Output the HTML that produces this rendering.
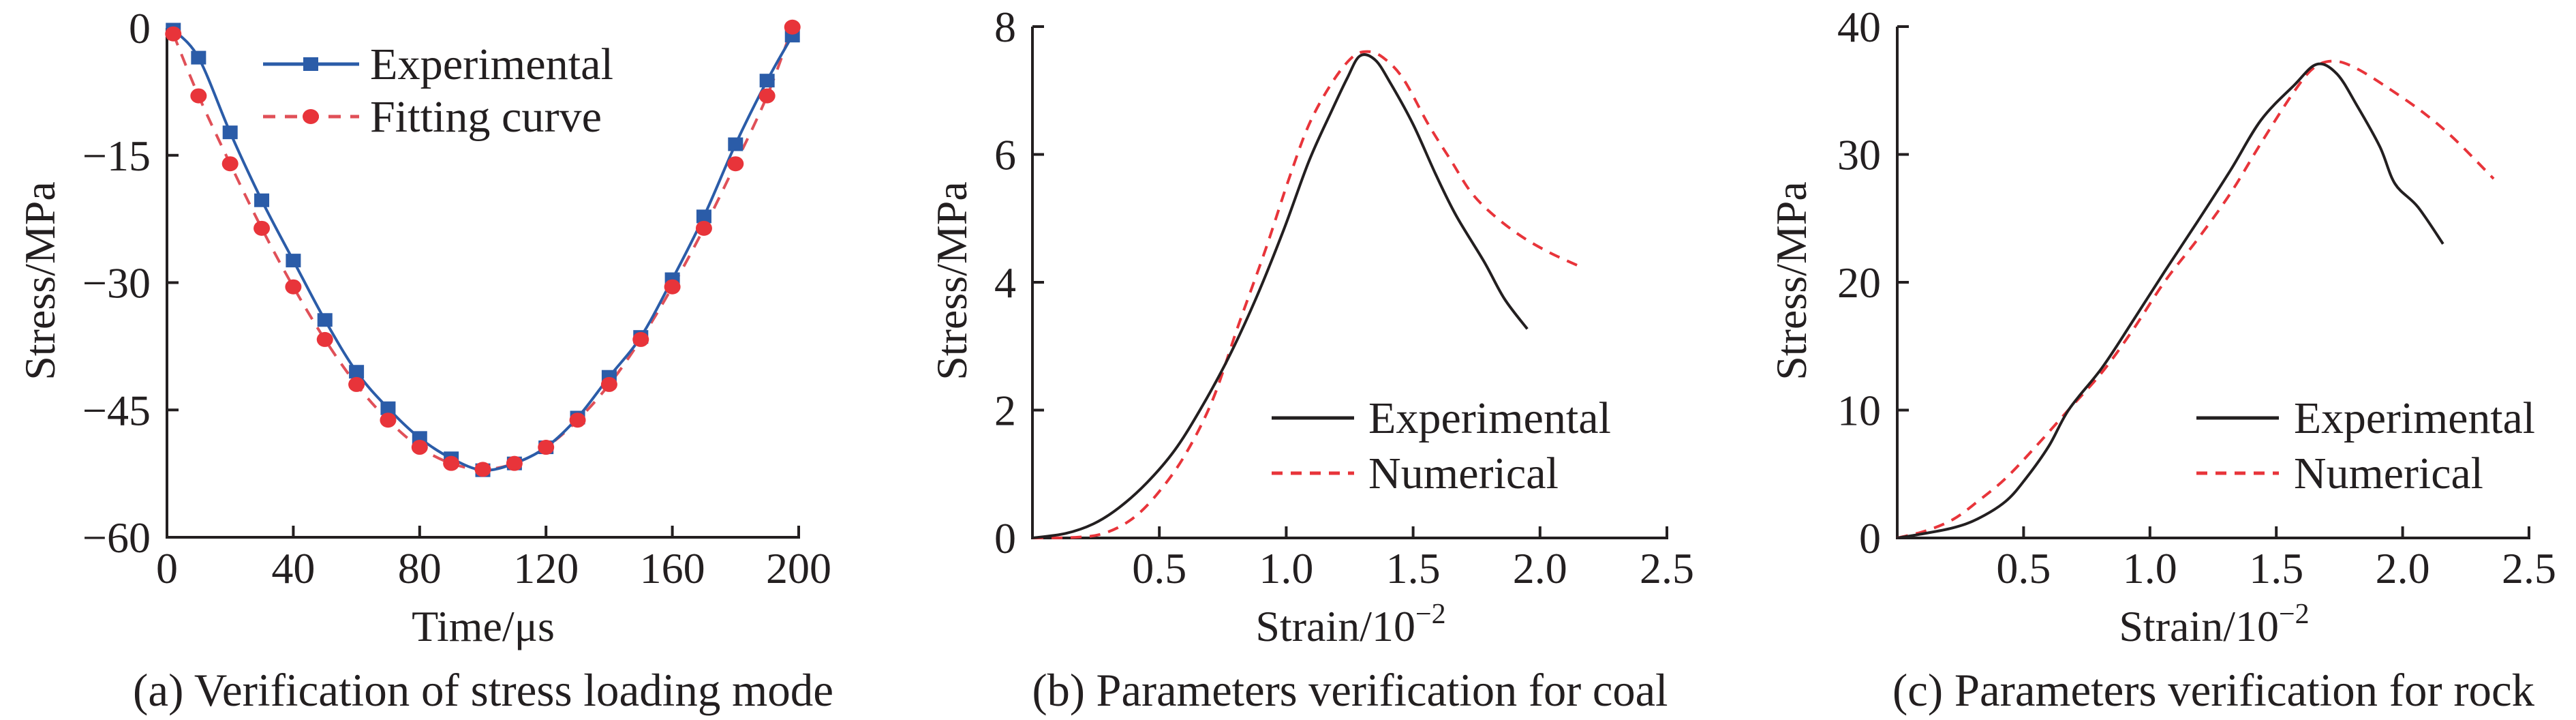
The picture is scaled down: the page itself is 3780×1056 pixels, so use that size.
<!DOCTYPE html>
<html><head><meta charset="utf-8"><style>
html,body{margin:0;padding:0;background:#fff;}
svg{display:block;font-family:"Liberation Serif",serif;fill:#231f20;}
</style></head><body>
<svg id="fig" width="3780" height="1056" viewBox="0 0 3780 1056" xmlns="http://www.w3.org/2000/svg"></svg>
<script>
// ---- Chart (a) data ----
const aTimes = [2,10,20,30,40,50,60,70,80,90,100,110,120,130,140,150,160,170,180,190,198];
const aExp = [-0.2,-3.5,-12.3,-20.3,-27.4,-34.4,-40.5,-44.8,-48.3,-50.7,-52.1,-51.3,-49.4,-45.9,-41.1,-36.4,-29.6,-22.2,-13.7,-6.2,-0.9];
const aFit = [-0.7,-8.0,-16.0,-23.6,-30.5,-36.7,-42.0,-46.2,-49.4,-51.3,-52.0,-51.3,-49.4,-46.2,-42.0,-36.7,-30.5,-23.6,-16.0,-8.0,0.1];
const aXTicks = [0,40,80,120,160,200];
const aYTicks = [0,-15,-30,-45,-60];
// ---- Chart (b) data ----
const bExpX = [0,0.13,0.24,0.34,0.45,0.56,0.66,0.77,0.88,0.99,1.09,1.18,1.24,1.29,1.35,1.41,1.5,1.59,1.67,1.78,1.86,1.95];
const bExpY = [0,0.07,0.22,0.47,0.86,1.37,2.0,2.8,3.74,4.82,5.9,6.69,7.19,7.54,7.48,7.12,6.47,5.68,5.04,4.32,3.74,3.27];
const bNumX = [0,0.17,0.28,0.39,0.49,0.6,0.71,0.81,0.92,1.01,1.09,1.18,1.26,1.32,1.38,1.46,1.56,1.65,1.73,1.82,1.93,2.04,2.15];
const bNumY = [0,0.01,0.07,0.29,0.68,1.29,2.16,3.31,4.53,5.61,6.47,7.12,7.52,7.61,7.52,7.19,6.47,5.9,5.4,5.04,4.71,4.46,4.26];
const bXTicks = [0.5,1.0,1.5,2.0,2.5];
const bYTicks = [0,2,4,6,8];
// ---- Chart (c) data ----
const cExpX = [0,0.09,0.22,0.32,0.43,0.51,0.6,0.68,0.81,0.93,1.06,1.19,1.32,1.44,1.57,1.66,1.74,1.82,1.91,1.97,2.06,2.16];
const cExpY = [0,0.29,0.79,1.51,2.88,4.68,7.19,10.07,13.3,16.9,20.9,24.8,28.8,32.7,35.4,37.05,36.3,33.8,30.6,27.7,25.9,23.0];
const cNumX = [0,0.11,0.22,0.32,0.43,0.55,0.68,0.81,0.93,1.06,1.19,1.32,1.44,1.57,1.65,1.73,1.82,1.95,2.08,2.2,2.36];
const cNumY = [0,0.54,1.44,2.88,4.68,7.19,10.07,12.95,16.2,20.1,23.4,27.0,30.9,34.9,36.8,37.3,36.7,35.1,33.3,31.3,28.1];
const cXTicks = [0.5,1.0,1.5,2.0,2.5];
const cYTicks = [0,10,20,30,40];

const NS = "http://www.w3.org/2000/svg";
const svg = document.getElementById('fig');
function mk(tag, attrs, parent){
  const e = document.createElementNS(NS, tag);
  for (const k in attrs) e.setAttribute(k, attrs[k]);
  (parent||svg).appendChild(e);
  return e;
}
function smooth(pts){
  let d = `M${pts[0][0]},${pts[0][1]}`;
  for (let i=0;i<pts.length-1;i++){
    const p0=pts[Math.max(0,i-1)], p1=pts[i], p2=pts[i+1], p3=pts[Math.min(pts.length-1,i+2)];
    const c1x=p1[0]+(p2[0]-p0[0])/6, c1y=p1[1]+(p2[1]-p0[1])/6;
    const c2x=p2[0]-(p3[0]-p1[0])/6, c2y=p2[1]-(p3[1]-p1[1])/6;
    d += ` C${c1x},${c1y} ${c2x},${c2y} ${p2[0]},${p2[1]}`;
  }
  return d;
}

function axes(g, x0, x1, yTop, yBot, xScale, yScale, xTicks, yTicks, xFmt, yFmt){
  const ax = mk('path',{d:`M${x0},${yTop} L${x0},${yBot} L${x1},${yBot} L${x1},${yBot-17}`,fill:'none',stroke:'#231f20','stroke-width':4},g);
  
  
  xTicks.forEach(v=>{
    const x = xScale(v);
    const t = mk('line',{x1:x,y1:yBot,x2:x,y2:yBot-17,stroke:'#231f20','stroke-width':4},g);
    
    
    const l = mk('text',{x:x,y:855,'font-size':64,'text-anchor':'middle'},g);
    l.textContent = xFmt(v);
    
    
  });
  yTicks.forEach(v=>{
    const y = yScale(v);
    const t = mk('line',{x1:x0,y1:y,x2:x0+17,y2:y,stroke:'#231f20','stroke-width':4},g);
    
    
    const l = mk('text',{x:x0-24,y:y+22,'font-size':64,'text-anchor':'end'},g);
    l.textContent = yFmt(v);
    
    
  });
}
function yTitle(g, cx, cy){
  const t = mk('text',{x:cx,y:cy,'font-size':64,'text-anchor':'middle',transform:`rotate(-90 ${cx} ${cy})`,dy:22},g);
  t.textContent = 'Stress/MPa';
  
  
}
function strainTitle(g, cx){
  const t = mk('text',{x:cx,y:940,'font-size':64,'text-anchor':'middle'},g);
  
  
  t.appendChild(document.createTextNode('Strain/10'));
  const s = mk('tspan',{'font-size':42,dy:-26},t);
  s.textContent = '\u22122';
}
function caption(g, cx, text, w){
  const t = mk('text',{x:cx,y:1035,'font-size':68,'text-anchor':'middle',textLength:w,lengthAdjust:'spacingAndGlyphs'},g);
  t.textContent = text;
  
  
}
function legendLine(g, x1, x2, y, color, dash, label, tx, w){
  const l = mk('line',{x1:x1,y1:y,x2:x2,y2:y,stroke:color,'stroke-width':5,'stroke-dasharray':dash||'none'},g);
  
  
  const t = mk('text',{x:tx,y:y+22,'font-size':66,textLength:w,lengthAdjust:'spacingAndGlyphs'},g);
  t.textContent = label;
  
  
}

// ===== Chart (a) =====
{
  const g = mk('g',{});
  
  
  const X = v => 245 + v*(927/200);
  const Y = v => 41 + (-v)*(747/60);
  axes(g,245,1172,41,788,X,Y,aXTicks,aYTicks,v=>String(v),v=>v===0?'0':'\u2212'+Math.abs(v));
  yTitle(g,58,412);
  const xt = mk('text',{x:709,y:940,'font-size':64,'text-anchor':'middle'},g);
  xt.textContent = 'Time/\u03bcs';
  
  
  caption(g,709,'(a) Verification of stress loading mode',1028);
  const ePts = aTimes.map((t,i)=>[X(t),Y(aExp[i])]);
  const fPts = aTimes.map((t,i)=>[X(t),Y(aFit[i])]);
  const fl = mk('path',{d:smooth(fPts),fill:'none',stroke:'#e05058','stroke-width':4,'stroke-dasharray':'18 14'},g);
  
  
  const el = mk('path',{d:smooth(ePts),fill:'none',stroke:'#2b5ca8','stroke-width':4},g);
  
  
  ePts.forEach(p=>{
    const r = mk('rect',{x:p[0]-11,y:p[1]-10,width:22,height:20,fill:'#2b5ca8'},g);
    
    
  });
  fPts.forEach(p=>{
    const c = mk('ellipse',{cx:p[0],cy:p[1],rx:12,ry:11,fill:'#e8343a'},g);
    
    
  });
  legendLine(g,386,527,94,'#2b5ca8',null,'Experimental',543,357);
  const lm = mk('rect',{x:445,y:84,width:22,height:20,fill:'#2b5ca8'},g);
  
  
  legendLine(g,386,527,171,'#e05058','18 14','Fitting curve',543,340);
  const lc = mk('ellipse',{cx:456,cy:171,rx:12,ry:11,fill:'#e8343a'},g);
  
  
}

// ===== Chart (b) =====
{
  const g = mk('g',{});
  
  
  const X = v => 1515 + v*372.4;
  const Y = v => 789 - v*(750/8);
  axes(g,1515,2446,39,789,X,Y,bXTicks,bYTicks,v=>v.toFixed(1),v=>String(v));
  yTitle(g,1396,412);
  strainTitle(g,1982);
  caption(g,1981,'(b) Parameters verification for coal',933);
  const n = mk('path',{d:smooth(bNumX.map((x,i)=>[X(x),Y(bNumY[i])])),fill:'none',stroke:'#e8343a','stroke-width':4,'stroke-dasharray':'16 12'},g);
  
  
  const e = mk('path',{d:smooth(bExpX.map((x,i)=>[X(x),Y(bExpY[i])])),fill:'none',stroke:'#231f20','stroke-width':4},g);
  
  
  legendLine(g,1866,1987,613,'#231f20',null,'Experimental',2008,356);
  legendLine(g,1866,1987,694,'#e8343a','16 12','Numerical',2008,279);
}

// ===== Chart (c) =====
{
  const g = mk('g',{});
  
  
  const X = v => 2784 + v*370.8;
  const Y = v => 789 - v*(750/40);
  axes(g,2784,3711,39,789,X,Y,cXTicks,cYTicks,v=>v.toFixed(1),v=>String(v));
  yTitle(g,2628,412);
  strainTitle(g,3249);
  caption(g,3248,'(c) Parameters verification for rock',942);
  const n = mk('path',{d:smooth(cNumX.map((x,i)=>[X(x),Y(cNumY[i])])),fill:'none',stroke:'#e8343a','stroke-width':4,'stroke-dasharray':'16 12'},g);
  
  
  const e = mk('path',{d:smooth(cExpX.map((x,i)=>[X(x),Y(cExpY[i])])),fill:'none',stroke:'#231f20','stroke-width':4},g);
  
  
  legendLine(g,3223,3344,613,'#231f20',null,'Experimental',3366,354);
  legendLine(g,3223,3344,694,'#e8343a','16 12','Numerical',3366,278);
}
</script>
</body></html>
